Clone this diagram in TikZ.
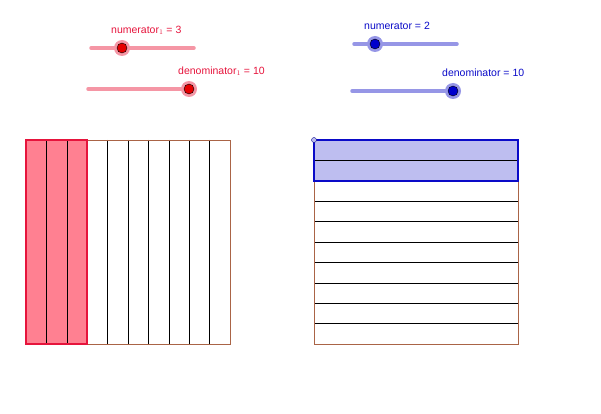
\documentclass[tikz,border=0pt]{standalone}
\usepackage{fontspec}
\setmainfont{Liberation Sans}
\begin{document}
\begin{tikzpicture}[x=1pt,y=-1pt,
 lbl/.style={anchor=south west,inner sep=0pt,font=\fontsize{10.5}{12}\selectfont},
 knobR/.style={circle,fill=red!90!black,draw=black,line width=0.4pt,minimum size=10pt,inner sep=0pt},
 knobB/.style={circle,fill=blue!80!black,draw=black,line width=0.4pt,minimum size=10pt,inner sep=0pt}]
\useasboundingbox (0,0) rectangle (601,414);
\definecolor{rline}{RGB}{245,150,165}
\definecolor{bline}{RGB}{150,150,230}
\definecolor{rfill}{RGB}{255,128,145}
\definecolor{bfill}{RGB}{190,190,240}
\definecolor{brn}{RGB}{170,100,70}
\definecolor{rtxt}{RGB}{230,20,60}
\definecolor{btxt}{RGB}{10,10,200}
% sliders
\draw[rline,line width=3.5pt,line cap=round] (91,48) -- (194,48);
\fill[rline] (122,48) circle (8);
\node[knobR] (k1) at (122,48) {};
\node[lbl,text=rtxt] (t1) at (111,35) {numerator$_1$ = 3};
\draw[rline,line width=3.5pt,line cap=round] (88,89) -- (190,89);
\fill[rline] (189,89) circle (8);
\node[knobR] (k2) at (189,89) {};
\node[lbl,text=rtxt] (t2) at (178,76) {denominator$_1$ = 10};
\draw[bline,line width=3.5pt,line cap=round] (354,44) -- (457,44);
\fill[bline] (375,44) circle (8);
\node[knobB] (k3) at (375,44) {};
\node[lbl,text=btxt] (t3) at (364,30) {numerator = 2};
\draw[bline,line width=3.5pt,line cap=round] (352,91) -- (455,91);
\fill[bline] (453,91) circle (8);
\node[knobB] (k4) at (453,91) {};
\node[lbl,text=btxt] (t4) at (442,77) {denominator = 10};
% left grid
\fill[rfill] (26,140) rectangle (87.2,344);
\foreach \i in {1,...,9} \draw[black,line width=0.5pt] (26+20.4*\i,140) -- (26+20.4*\i,344);
\draw[brn,line width=0.6pt] (26,140) rectangle (230,344);
\draw[rtxt,line width=1.5pt] (26,140) rectangle (87.2,344);
% right grid
\fill[bfill] (314,140) rectangle (518,180.8);
\foreach \i in {1,...,9} \draw[black,line width=0.5pt] (314,140+20.4*\i) -- (518,140+20.4*\i);
\draw[brn,line width=0.6pt] (314,140) rectangle (518,344);
\draw[btxt,line width=1.5pt] (314,140) rectangle (518,180.8);
\node[circle,fill=bfill,draw=btxt!70!black,line width=0.4pt,minimum size=5pt,inner sep=0pt] (p) at (314,140) {};
\end{tikzpicture}
\end{document}
